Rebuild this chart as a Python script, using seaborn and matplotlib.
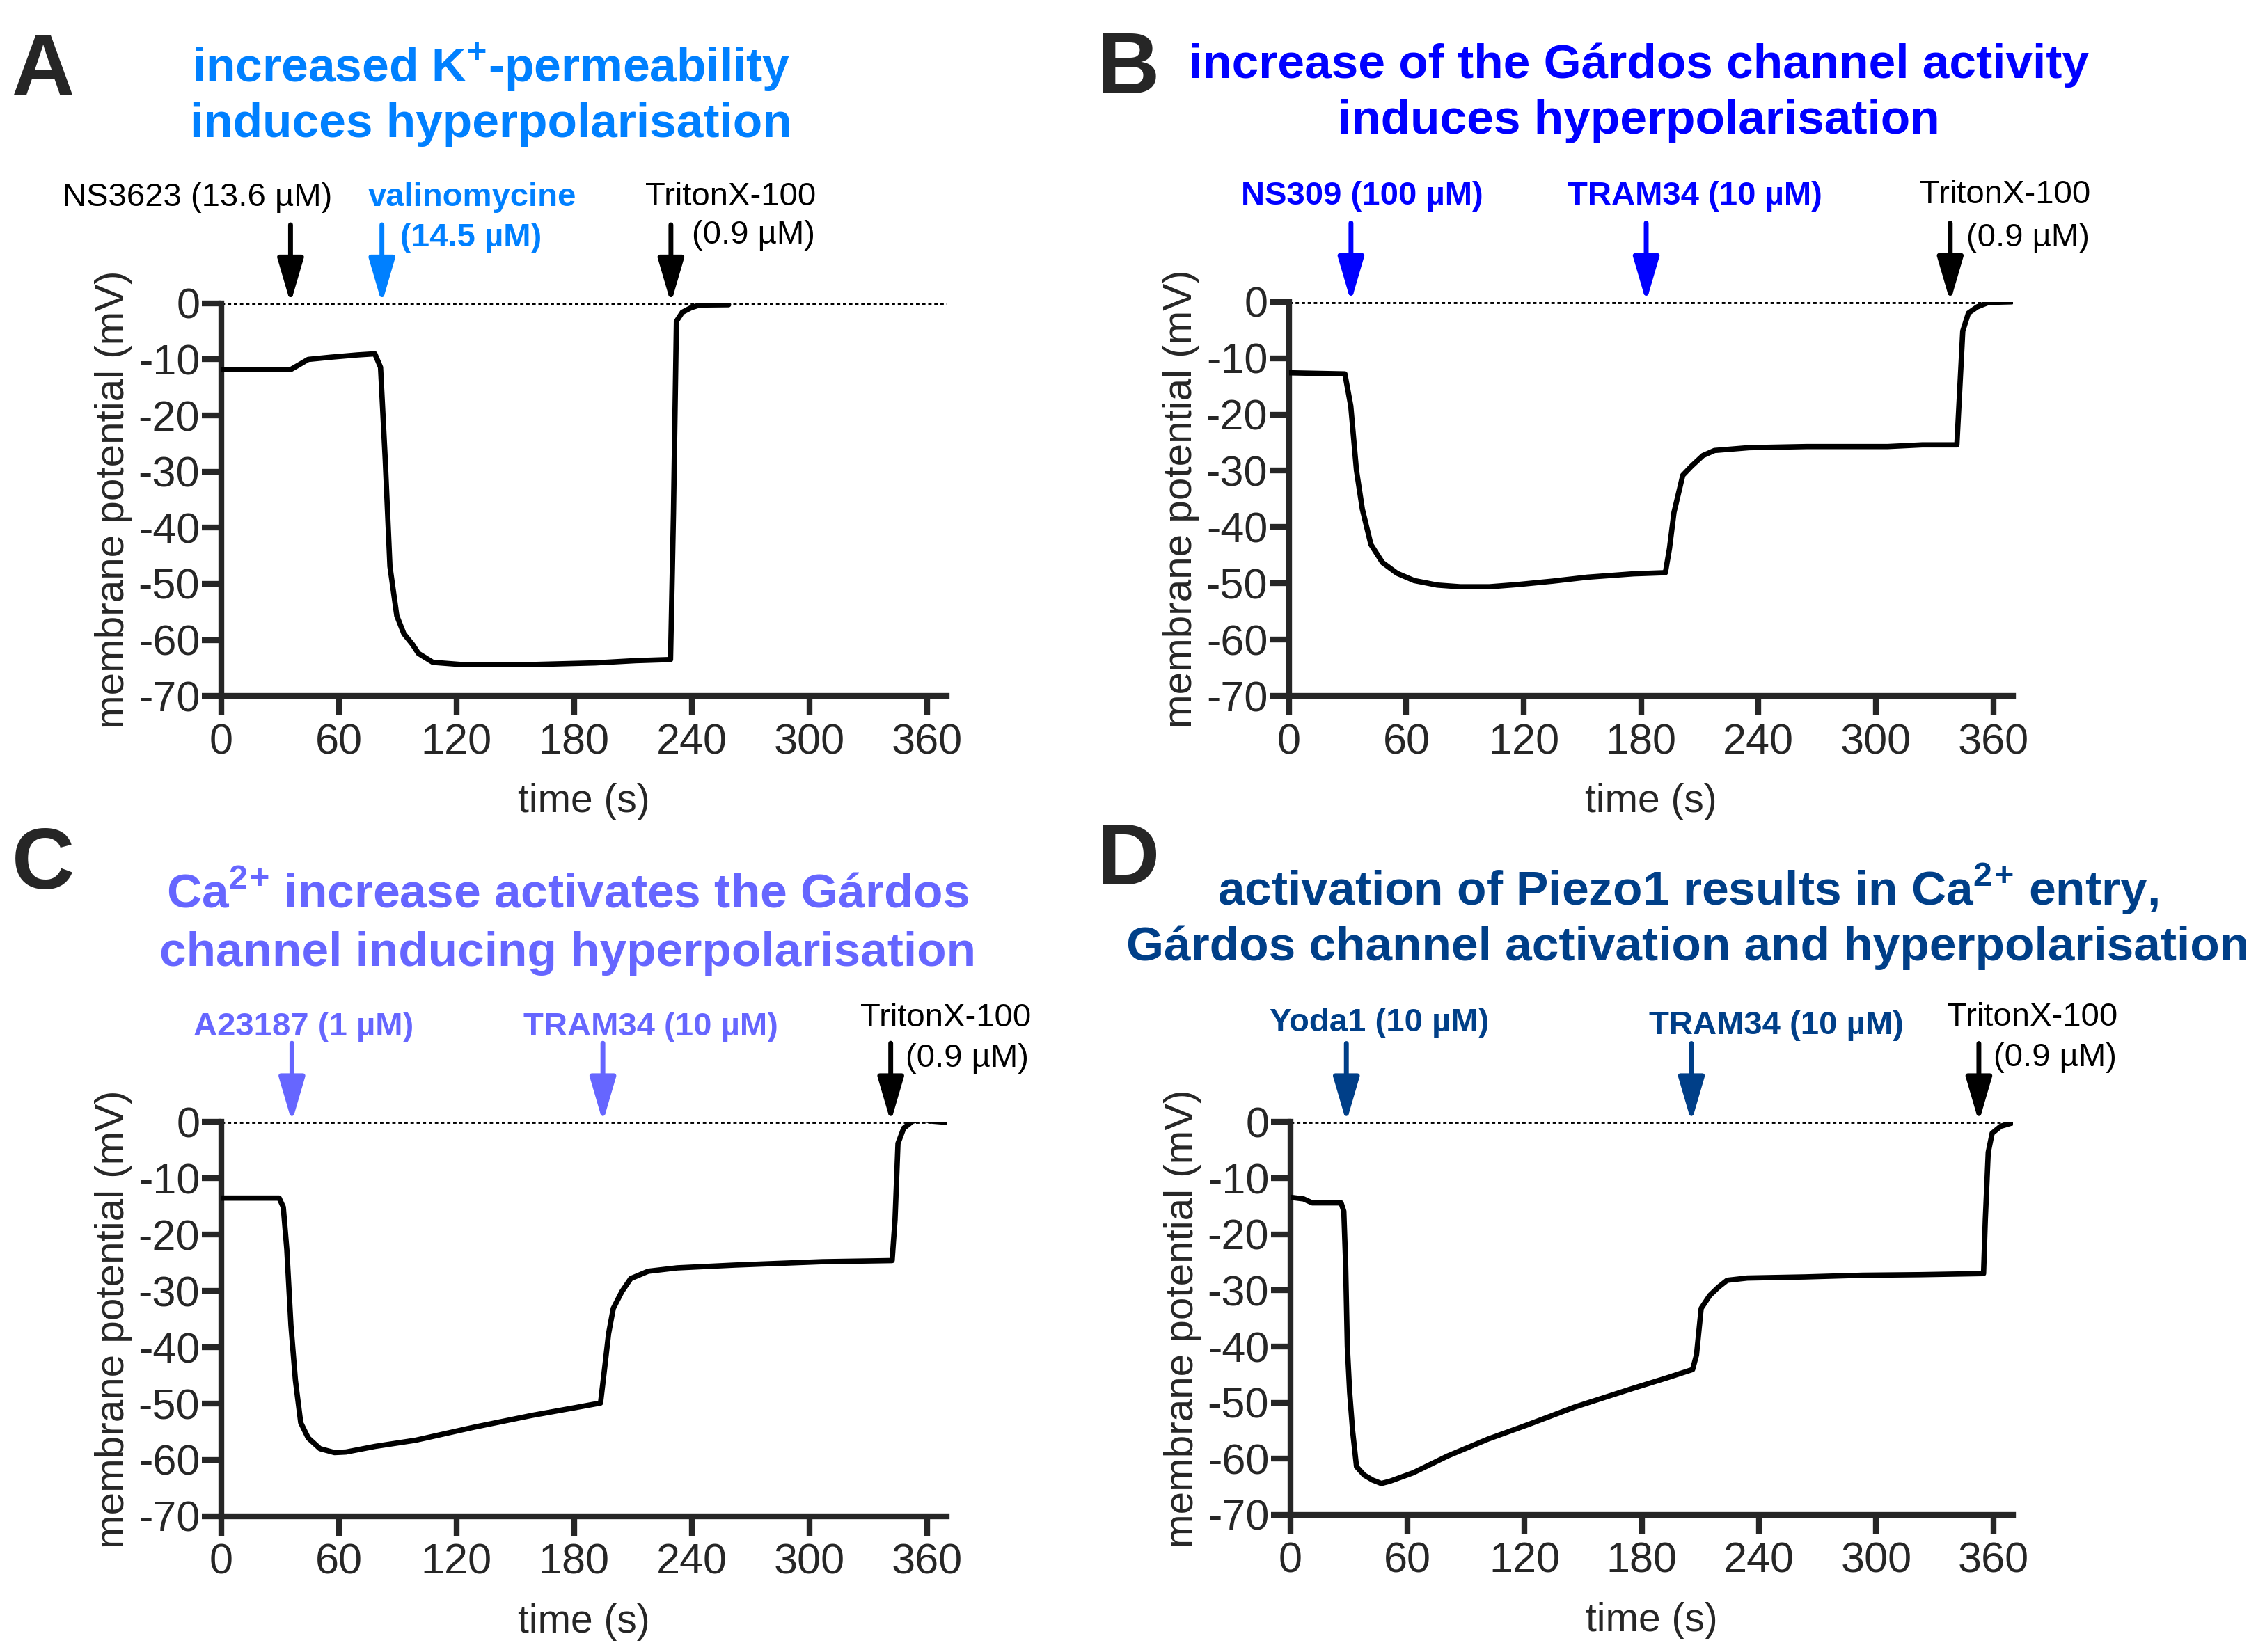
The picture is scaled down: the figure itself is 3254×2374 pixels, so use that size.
import matplotlib
matplotlib.use('Agg')
import matplotlib.pyplot as plt
import seaborn as sns
import pandas as pd

tA = [0, 35.5, 40, 44.4, 56, 69.5, 78.4, 81.3, 83.7, 86.1, 89.6, 93.2, 97.6, 100.6, 108, 122.8,
      158, 190.8, 211.5, 229.2, 230.7, 232.2, 235.2, 239.6, 244, 258.8]
vA = [-11.8, -11.8, -10.9, -10.0, -9.6, -9.2, -9.0, -11.4, -27.9, -46.9, -55.7, -58.9, -60.8, -62.4, -64.0, -64.4,
      -64.4, -64.1, -63.7, -63.5, -37.4, -3.2, -1.6, -0.8, -0.3, -0.25]

tB = [0, 28.6, 31.6, 34.5, 37.5, 41.9, 47.8, 55.2, 64, 75.8, 87.6, 102.4, 117.2, 134.9, 152.6, 176.2, 192.4,
      194.5, 196.8, 199.8, 201.3, 205.7, 211.6, 217.5, 235.2, 264.7, 306, 323.7, 341.4,
      342.9, 344.4, 347.3, 351.8, 357.6, 369.5]
vB = [-12.6, -12.8, -18.5, -29.9, -36.8, -43.1, -46.3, -48.2, -49.5, -50.3, -50.6, -50.6, -50.2, -49.6, -48.9, -48.3, -48.1,
      -43.8, -37.4, -33.0, -30.8, -29.2, -27.3, -26.4, -25.9, -25.7, -25.7, -25.4, -25.4,
      -15.3, -5.2, -2.0, -0.9, -0.1, 0.0]

tC = [0, 29.6, 31.7, 33.5, 35.6, 37.9, 40.6, 44.4, 50.4, 57.8, 63.7, 78.5, 99.3, 128.9, 158.5, 179.3, 193.5,
      195.6, 197.6, 200, 204.4, 208.9, 217.8, 232.6, 262.2, 306.7, 342.2,
      343.7, 345.2, 348.1, 352.6, 357, 363, 371.9]
vC = [-13.5, -13.5, -15.1, -22.6, -36.1, -45.9, -53.4, -56.1, -58.0, -58.7, -58.6, -57.6, -56.5, -54.2, -52.1, -50.8, -49.9,
      -43.7, -37.6, -33.1, -30.1, -27.8, -26.5, -25.9, -25.4, -24.8, -24.6,
      -17.3, -3.8, -1.1, 0.15, 0.5, 0.15, -0.1]

tD = [0, 6.8, 11.2, 26, 27.4, 28.3, 29.2, 30.4, 31.9, 33.9, 37.8, 42.2, 46.6, 51, 62.9, 80.6, 101.2, 121.9,
      145.5, 175, 192.7, 206, 208, 210.4, 214.8, 219.3, 223.7, 234, 263.5, 293, 322.5, 355,
      355.9, 357.4, 359.4, 363.8, 369.7]
vD = [-13.4, -13.7, -14.4, -14.4, -15.9, -24.9, -40.0, -48.2, -55.0, -61.4, -62.9, -63.8, -64.4, -64.0, -62.5, -59.5, -56.5, -53.9,
      -50.8, -47.5, -45.6, -44.1, -41.5, -33.2, -30.9, -29.4, -28.2, -27.8, -27.6, -27.3, -27.2, -27.0,
      -17.4, -5.4, -2.0, -0.75, -0.15]

letters = ['A', 'B', 'C', 'D']
colors = ['#0080FF', '#0000FF', '#6666FF', '#003F88']
titles = [
    ['increased K$^{\\mathbf{+}}$-permeability', 'induces hyperpolarisation'],
    ['increase of the Gárdos channel activity', 'induces hyperpolarisation'],
    ['Ca$^{\\mathbf{2}}$$^{\\mathbf{+}}$ increase activates the Gárdos', 'channel inducing hyperpolarisation'],
    ['activation of Piezo1 results in Ca$^{\\mathbf{2}}$$^{\\mathbf{+}}$ entry,',
     'Gárdos channel activation and hyperpolarisation'],
]
# drug additions
arrow_times = [[35.4, 82, 229.4], [31.7, 182.6, 338], [36.1, 194.7, 341.5], [28.7, 205.4, 352.6]]
drug_labels = [
    ['NS3623 (13.6 µM)', 'valinomycine', 'TritonX-100'],
    ['NS309 (100 µM)', 'TRAM34 (10 µM)', 'TritonX-100'],
    ['A23187 (1 µM)', 'TRAM34 (10 µM)', 'TritonX-100'],
    ['Yoda1 (10 µM)', 'TRAM34 (10 µM)', 'TritonX-100'],
]
traces = [(tA, vA), (tB, vB), (tC, vC), (tD, vD)]

sns.set_style('ticks')
FONT = 'Liberation Sans'
plt.rcParams['font.family'] = [FONT, 'DejaVu Sans']
plt.rcParams['axes.unicode_minus'] = False
plt.rcParams['mathtext.fontset'] = 'custom'
plt.rcParams['mathtext.rm'] = FONT
plt.rcParams['mathtext.bf'] = FONT + ':bold'

fig = plt.figure(figsize=(32.55, 23.74), dpi=100)

# axes boxes [left, bottom, width, height] in figure fraction
boxes = [
    [0.0976, 0.5787, 0.3202, 0.2377],
    [0.5689, 0.5787, 0.3195, 0.2386],
    [0.0976, 0.0822, 0.3202, 0.2386],
    [0.5695, 0.0830, 0.3189, 0.2378],
]
title_pos = [(0.2168, 0.9589, 0.9248), (0.7232, 0.9607, 0.9266),
             (0.2506, 0.4580, 0.4230), (0.7449, 0.4615, 0.4266)]
letter_pos = [(0.019, 0.956), (0.498, 0.957), (0.019, 0.4755), (0.498, 0.478)]
text_pos = [
    [(-12, 18.8), (75, 18.8), (259.7, 19.0)],
    [(37.5, 18.7), (207.6, 18.7), (365.9, 19.0)],
    [(42, 16.9), (219, 16.9), (369.6, 18.5)],
    [(45.6, 17.7), (248.8, 17.2), (379.9, 18.7)],
]
conc_pos = [(271.5, 12.1), (377.7, 11.3), (380.6, 11.3), (391.7, 11.5)]

ANN = 34
for i in range(4):
    ax = fig.add_axes(boxes[i])
    t, v = traces[i]
    df = pd.DataFrame({'time': t, 'mV': v})
    ax.axhline(0, color='black', ls=(0, (1, 0.8)), lw=3.5, zorder=1)
    sns.lineplot(data=df, x='time', y='mV', ax=ax, color='black', lw=5.5,
                 sort=False, estimator=None, zorder=3)
    ax.set_xlim(0, 370)
    ax.set_ylim(-70, 0)
    ax.set_xticks(range(0, 361, 60))
    ax.set_yticks(range(-70, 1, 10))
    ax.tick_params(width=6, length=20, labelsize=44, pad=8)
    ax.tick_params(axis='y', pad=2)
    for s in ['left', 'bottom']:
        ax.spines[s].set_linewidth(6)
    sns.despine(ax=ax)
    ax.set_xlabel('time (s)', fontsize=41, labelpad=21)
    ax.set_ylabel('membrane potential (mV)', fontsize=42, labelpad=6)

    c = colors[i]
    for j, tt in enumerate(arrow_times[i]):
        ac = 'black' if (j == 2 or (i == 0 and j == 0)) else c
        ax.annotate('', xy=(tt, 0), xytext=(tt, 14), annotation_clip=False,
                    arrowprops=dict(arrowstyle='-|>,head_length=1.3,head_width=0.38', lw=5,
                                    color=ac, mutation_scale=30, shrinkA=0, shrinkB=0))
        tx, ty = text_pos[i][j]
        bold = ac != 'black'
        ha = 'left' if (i == 0 and j == 1) else 'center'
        ax.text(tx, ty, drug_labels[i][j], ha=ha, va='center', color=ac, clip_on=False,
                fontsize=ANN, fontweight='bold' if bold else 'normal')
    ax.text(conc_pos[i][0], conc_pos[i][1], '(0.9 µM)', ha='center', va='center', color='black',
            clip_on=False, fontsize=ANN)
    if i == 0:
        ax.text(91.5, 11.6, '(14.5 µM)', ha='left', va='center', color=c, clip_on=False,
                fontsize=ANN, fontweight='bold')

    x0, y1, y2 = title_pos[i]
    fig.text(x0, y1, titles[i][0], ha='center', va='center', color=c, fontweight='bold', fontsize=50)
    fig.text(x0, y2, titles[i][1], ha='center', va='center', color=c, fontweight='bold', fontsize=50)
    fig.text(letter_pos[i][0], letter_pos[i][1], letters[i], ha='center', va='center',
             fontweight='bold', fontsize=90)

fig.savefig('out.png', dpi=100)
